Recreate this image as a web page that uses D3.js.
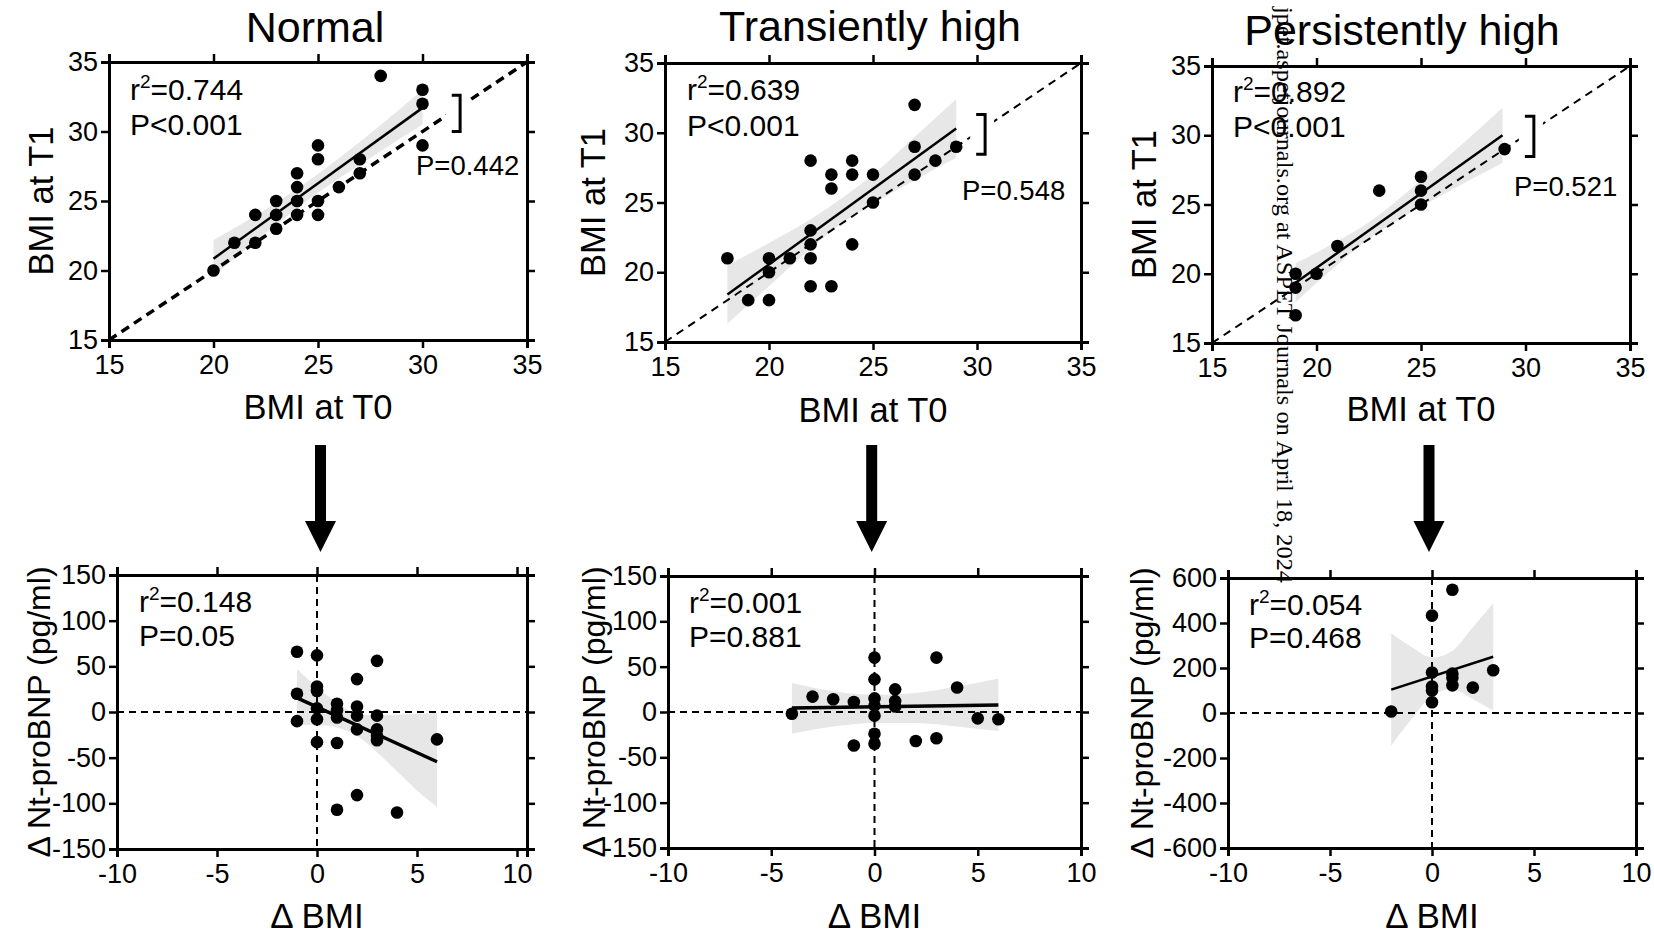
<!DOCTYPE html>
<html><head><meta charset="utf-8">
<script src="https://cdn.jsdelivr.net/npm/d3@7"></script>
<style>
html,body{margin:0;padding:0;background:#fff;}
svg{display:block;}
text{font-family:"Liberation Sans", Arial, sans-serif; fill:#000;}
</style></head><body>
<svg id="chart" width="1654" height="936"></svg>
<script>
// ---------------- DATA ----------------
const groupNames = ["Normal", "Transiently high", "Persistently high"];

const bmiTicks = [15, 20, 25, 30, 35];
const dBmiTicks = [-10, -5, 0, 5, 10];
const dNtTicks = [-150, -100, -50, 0, 50, 100, 150];
const dNtTicksPers = [-600, -400, -200, 0, 200, 400, 600];

// Top row: BMI at T0 vs BMI at T1
const normalT0 = [20,21,22,22,23,23,23,24,24,24,24,25,25,25,25,26,27,27,28,30,30,30];
const normalT1 = [20,22,24,22,25,24,23,27,26,25,24,29,28,25,24,26,28,27,34,33,32,29];
const transT0 = [18,19,20,20,20,21,22,22,22,22,22,23,23,23,24,24,24,25,25,27,27,27,28,29];
const transT1 = [21,18,21,20,18,21,28,23,22,21,19,27,26,19,28,27,22,27,25,32,29,27,28,29];
const persT0 = [19,19,19,20,21,23,25,25,25,29];
const persT1 = [20,19,17,20,22,26,27,26,25,29];

// Fitted regression lines (end points)
const normalFitX = [20, 30],   normalFitY = [20.85, 31.7];
const transFitX  = [18, 29],   transFitY  = [18.4, 30.3];
const persFitX   = [19, 28.9], persFitY   = [19.35, 30.0];

// Confidence bands
const normalBandX  = [20, 22.5, 25, 27.5, 30];
const normalBandLo = [19.6, 22.7, 25.6, 28.1, 30.5];
const normalBandHi = [22.2, 24.4, 26.95, 29.85, 33.0];
const transBandX   = [18, 20, 22, 23.5, 25, 27, 29];
const transBandLo  = [16.3, 19.0, 21.7, 23.5, 24.9, 26.6, 28.2];
const transBandHi  = [20.5, 22.1, 23.8, 25.3, 27.0, 29.7, 32.4];
const persBandX    = [19, 21, 22.5, 24, 26, 28.9];
const persBandLo   = [17.95, 20.65, 22.5, 23.97, 25.67, 27.99];
const persBandHi   = [20.75, 22.35, 23.7, 25.47, 28.07, 31.99];

// Bottom row: delta BMI vs delta Nt-proBNP
const normalDBmi = [-1,-1,-1,0,0,0,0,0,0,1,1,1,1,1,2,2,2,2,2,3,3,3,3,3,4,6];
const normalDNt  = [66,20,-10,62,28,23,4,-8,-33,9,2,-6,-34,-107,36,6,-4,-19,-91,56,-4,-19,-26,-31,-110,-30];
const transDBmi  = [-4,-3,-2,-1,-1,0,0,0,0,0,0,0,1,1,1,2,3,3,4,5,6];
const transDNt   = [-2,17,14,11,-37,60,36,15,7,-4,-24,-35,25,12,6,-32,60,-29,27,-7,-8];
const persDBmi   = [-2,0,0,0,0,0,1,1,1,1,2,3];
const persDNt    = [7,433,180,118,100,48,548,175,157,123,113,190];

const normalDFitX = [-1, 6], normalDFitY = [15.5, -54.5];
const transDFitX  = [-4, 6], transDFitY  = [4.4, 7.7];
const persDFitX   = [-2, 3], persDFitY   = [104, 250];

const normalDBandX  = [-1, 0, 1, 2, 3, 4, 5, 6];
const normalDBandLo = [-14, -14, -17, -26, -44, -65, -86, -104];
const normalDBandHi = [47, 27, 10, -2, -4, -3, -2, -1];
const transDBandX   = [-4, -2, 0, 2, 4, 6];
const transDBandLo  = [-24, -16, -12, -12, -16, -21];
const transDBandHi  = [32, 23, 19, 21, 28, 37];
const persDBandX    = [-2, -1, 0, 1, 2, 3];
const persDBandLo   = [-145, -27, 77, 107, 61, 11];
const persDBandHi   = [354, 293, 247, 276, 381, 488];

const topR2   = ["0.744", "0.639", "0.892"];
const topP    = ["P<0.001", "P<0.001", "P<0.001"];
const topPDiff = ["P=0.442", "P=0.548", "P=0.521"];
const botR2   = ["0.148", "0.001", "0.054"];
const botP    = ["P=0.05", "P=0.881", "P=0.468"];

// visible part of the vertical download stamp
const watermarkText = "jpet.aspetjournals.org at ASPET Journals on April 18, 2024";

// ---------------- LAYOUT ----------------
const svg = d3.select("#chart");

const panels = [
  {kind:"top", left:109, right:527, top:62, bottom:340, xDomain:[15,35], yDomain:[15,35],
   xt:bmiTicks, yt:bmiTicks, px:normalT0, py:normalT1, fx:normalFitX, fy:normalFitY,
   bx:normalBandX, blo:normalBandLo, bhi:normalBandHi, fitW:2.5, idW:3.5, idDash:"9,6",
   title:groupNames[0], titleX:315, titleY:42, ylabX:53, xlabY:419,
   r2:topR2[0], p:topP[0], statX:130, statY:[100,135],
   pd:topPDiff[0], pdX:416, pdY:175, br:{x0:31.4, x1:31.8, y0:30.0, y1:32.6}},
  {kind:"top", left:665, right:1081, top:63, bottom:342, xDomain:[15,35], yDomain:[15,35],
   xt:bmiTicks, yt:bmiTicks, px:transT0, py:transT1, fx:transFitX, fy:transFitY,
   bx:transBandX, blo:transBandLo, bhi:transBandHi, fitW:2.5, idW:2, idDash:"8,6",
   title:groupNames[1], titleX:870, titleY:41, ylabX:605, xlabY:422,
   r2:topR2[1], p:topP[1], statX:687, statY:[100,136],
   pd:topPDiff[1], pdX:962, pdY:200, br:{x0:29.96, x1:30.39, y0:28.45, y1:31.3}},
  {kind:"top", left:1212, right:1630, top:66, bottom:343, xDomain:[15,35], yDomain:[15,35],
   xt:bmiTicks, yt:bmiTicks, px:persT0, py:persT1, fx:persFitX, fy:persFitY,
   bx:persBandX, blo:persBandLo, bhi:persBandHi, fitW:2.5, idW:2, idDash:"8,6",
   title:groupNames[2], titleX:1402, titleY:45, ylabX:1156, xlabY:421,
   r2:topR2[2], p:topP[2], statX:1233, statY:[102,137],
   pd:topPDiff[2], pdX:1514, pdY:196, br:{x0:29.97, x1:30.4, y0:28.47, y1:31.37}},
  {kind:"bot", left:117, right:527, top:575, bottom:849, xDomain:[-10,10.5], yDomain:[-150,150],
   xt:dBmiTicks, yt:dNtTicks, px:normalDBmi, py:normalDNt, fx:normalDFitX, fy:normalDFitY,
   bx:normalDBandX, blo:normalDBandLo, bhi:normalDBandHi, fitW:3.5,
   ylabX:50, xlabY:928, r2:botR2[0], p:botP[0], statX:139, statY:[612,646], arrowX:320.5},
  {kind:"bot", left:668, right:1081, top:576, bottom:848, xDomain:[-10,10], yDomain:[-150,150],
   xt:dBmiTicks, yt:dNtTicks, px:transDBmi, py:transDNt, fx:transDFitX, fy:transDFitY,
   bx:transDBandX, blo:transDBandLo, bhi:transDBandHi, fitW:3.5,
   ylabX:605, xlabY:928, r2:botR2[1], p:botP[1], statX:689, statY:[613,647], arrowX:871.7},
  {kind:"bot", left:1228, right:1636, top:578, bottom:848, xDomain:[-10,10], yDomain:[-600,600],
   xt:dBmiTicks, yt:dNtTicksPers, px:persDBmi, py:persDNt, fx:persDFitX, fy:persDFitY,
   bx:persDBandX, blo:persDBandLo, bhi:persDBandHi, fitW:2.5,
   ylabX:1153, xlabY:928, r2:botR2[2], p:botP[2], statX:1249, statY:[615,648], arrowX:1429}
];

function styleAxis(sel) {
  sel.select(".domain").attr("stroke", "#000").attr("stroke-width", 3);
  sel.selectAll(".tick line").attr("stroke", "#000").attr("stroke-width", 2.5);
  sel.selectAll(".tick text").style("font-family", "'Liberation Sans', Arial, sans-serif")
     .style("font-size", "27px").attr("fill", "#000");
  sel.attr("font-family", null).attr("font-size", null);
}

function drawPanel(c) {
  const x = d3.scaleLinear().domain(c.xDomain).range([c.left, c.right]);
  const y = d3.scaleLinear().domain(c.yDomain).range([c.bottom, c.top]);
  const g = svg.append("g");

  // confidence band
  const area = d3.area().x(d => x(d[0])).y0(d => y(d[1])).y1(d => y(d[2])).curve(d3.curveMonotoneX);
  g.append("path").datum(d3.zip(c.bx, c.blo, c.bhi)).attr("d", area).attr("fill", "#e7e7e7");

  if (c.kind === "top") {
    // identity line
    g.append("line")
      .attr("x1", x(c.xDomain[0])).attr("y1", y(c.yDomain[0]))
      .attr("x2", x(c.xDomain[1])).attr("y2", y(c.yDomain[1]))
      .attr("stroke", "#000").attr("stroke-width", c.idW).attr("stroke-dasharray", c.idDash);
    // bracket with white gap
    g.append("rect")
      .attr("x", x(c.br.x0) - 6).attr("y", y(c.br.y1) - 2)
      .attr("width", x(c.br.x1) - x(c.br.x0) + 15).attr("height", y(c.br.y0) - y(c.br.y1) + 4)
      .attr("fill", "#fff");
    g.append("path")
      .attr("d", `M${x(c.br.x0)},${y(c.br.y1)}H${x(c.br.x1)}V${y(c.br.y0)}H${x(c.br.x0)}`)
      .attr("fill", "none").attr("stroke", "#000").attr("stroke-width", 3);
  } else {
    g.append("line").attr("x1", c.left).attr("x2", c.right).attr("y1", y(0)).attr("y2", y(0))
      .attr("stroke", "#000").attr("stroke-width", 2).attr("stroke-dasharray", "7,5");
    g.append("line").attr("x1", x(0)).attr("x2", x(0)).attr("y1", c.top).attr("y2", c.bottom)
      .attr("stroke", "#000").attr("stroke-width", 2).attr("stroke-dasharray", "7,5");
  }

  // regression line
  g.append("line")
    .attr("x1", x(c.fx[0])).attr("y1", y(c.fy[0]))
    .attr("x2", x(c.fx[1])).attr("y2", y(c.fy[1]))
    .attr("stroke", "#000").attr("stroke-width", c.fitW);

  // points
  g.selectAll("circle.pt").data(d3.zip(c.px, c.py)).join("circle")
    .attr("class", "pt").attr("cx", d => x(d[0])).attr("cy", d => y(d[1])).attr("r", 6.3)
    .attr("fill", "#000");

  // axes (ticks outward on all four sides)
  const fmt = d => String(d);
  const ax = g.append("g").attr("transform", `translate(0,${c.bottom})`)
    .call(d3.axisBottom(x).tickValues(c.xt).tickFormat(fmt).tickSize(8).tickSizeOuter(8).tickPadding(7));
  styleAxis(ax);
  const at = g.append("g").attr("transform", `translate(0,${c.top})`)
    .call(d3.axisTop(x).tickValues(c.xt).tickFormat("").tickSize(8).tickSizeOuter(8));
  styleAxis(at);
  const ay = g.append("g").attr("transform", `translate(${c.left},0)`)
    .call(d3.axisLeft(y).tickValues(c.yt).tickFormat(fmt).tickSize(8).tickSizeOuter(8).tickPadding(3));
  styleAxis(ay);
  const ar = g.append("g").attr("transform", `translate(${c.right},0)`)
    .call(d3.axisRight(y).tickValues(c.yt).tickFormat("").tickSize(8).tickSizeOuter(8));
  styleAxis(ar);

  // stats
  const s = g.append("text").attr("x", c.statX).attr("y", c.statY[0]).style("font-size", "30px");
  s.append("tspan").text("r");
  s.append("tspan").attr("dy", -12).style("font-size", "19px").text("2");
  s.append("tspan").attr("dy", 12).text("=" + c.r2);
  g.append("text").attr("x", c.statX).attr("y", c.statY[1]).style("font-size", "30px").text(c.p);

  const midY = (c.top + c.bottom) / 2;
  if (c.kind === "top") {
    g.append("text").attr("x", c.pdX).attr("y", c.pdY).style("font-size", "27.5px").text(c.pd);
    g.append("text").attr("x", c.titleX).attr("y", c.titleY).attr("text-anchor", "middle")
      .style("font-size", "43px").text(c.title);
    g.append("text").attr("x", (c.left + c.right) / 2).attr("y", c.xlabY).attr("text-anchor", "middle")
      .style("font-size", "34.5px").text("BMI at T0");
    g.append("text").attr("transform", `translate(${c.ylabX},${midY}) rotate(-90)`)
      .attr("text-anchor", "middle").style("font-size", "34.5px").text("BMI at T1");
  } else {
    g.append("text").attr("x", x(0)).attr("y", c.xlabY).attr("text-anchor", "middle")
      .style("font-size", "35px").text("\u0394 BMI");
    g.append("text").attr("transform", `translate(${c.ylabX},${midY}) rotate(-90)`)
      .attr("text-anchor", "middle").style("font-size", "32px").text("\u0394 Nt-proBNP (pg/ml)");
    // arrow
    const ax0 = c.arrowX;
    g.append("path")
      .attr("d", `M${ax0-5.5},445H${ax0+5.5}V521H${ax0+15.5}L${ax0},552L${ax0-15.5},521H${ax0-5.5}Z`)
      .attr("fill", "#000");
  }
}

panels.forEach(drawPanel);

// watermark (rotated, serif), visible part only, spanning y 6..583
const wmFont = "'Liberation Serif', 'Times New Roman', serif";
const wm = svg.append("text")
  .attr("transform", "translate(1277,583) rotate(90)")
  .attr("text-anchor", "end")
  .style("font-family", wmFont)
  .style("font-size", "24px")
  .text(watermarkText);
wm.attr("textLength", 576).attr("lengthAdjust", "spacingAndGlyphs");
</script>
</body></html>
